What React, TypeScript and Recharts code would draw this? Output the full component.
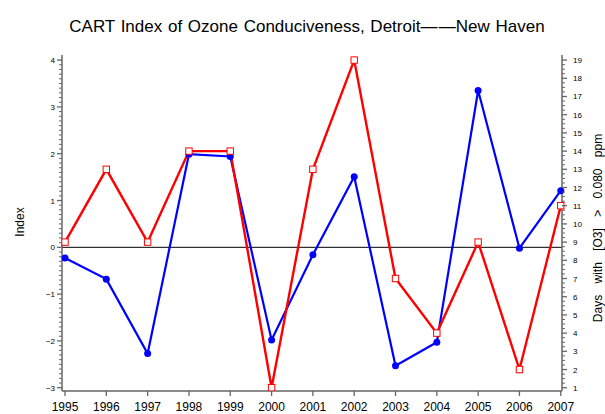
import { LineChart, Line, XAxis, YAxis, ReferenceLine } from 'recharts'

const years = [1995, 1996, 1997, 1998, 1999, 2000, 2001, 2002, 2003, 2004, 2005, 2006, 2007]
// CART index (left axis, blue)
const cartIndex = [-0.23, -0.68, -2.27, 1.99, 1.94, -1.98, -0.16, 1.51, -2.53, -2.03, 3.35, -0.02, 1.21]
// days with [O3] > 0.080 ppm (right axis, red)
const ozoneDays = [9, 13, 9, 14, 14, 1, 13, 19, 7, 4, 9, 2, 11]

const indexTicks = [-3, -2, -1, 0, 1, 2, 3, 4]
const dayTicks = [1, 2, 3, 4, 5, 6, 7, 8, 9, 10, 11, 12, 13, 14, 15, 16, 17, 18, 19]

const data = years.map((year, i) => ({ year, index: cartIndex[i], days: ozoneDays[i] }))

// minor ticks between the labelled ones
const withMinor = (major: number[], step: number) => {
  const out: number[] = []
  const lo = major[0]
  const hi = major[major.length - 1]
  for (let v = lo; v <= hi + 1e-9; v += step) out.push(Math.round(v * 100) / 100)
  return out
}
const indexAllTicks = withMinor(indexTicks, 0.1)
const dayAllTicks = withMinor(dayTicks, 0.25)

const axisColor = '#666'
const font = '"Liberation Sans", Arial, Helvetica, sans-serif'

const fmt = (v: number) => (v < 0 ? `\u2212${-v}` : `${v}`)

const LeftTick = ({ x, y, payload }: any) => {
  const v = payload.value
  const major = indexTicks.includes(v)
  return (
    <g>
      <line x1={x} x2={x - (major ? 5 : 3)} y1={y} y2={y} stroke={axisColor} strokeWidth={major ? 1.3 : 1} />
      {major && (
        <text x={x - 7} y={y} dy={3} textAnchor="end" fontSize={8} fontFamily={font} fill="#000">
          {fmt(v)}
        </text>
      )}
    </g>
  )
}

const RightTick = ({ x, y, payload }: any) => {
  const v = payload.value
  const major = dayTicks.includes(v)
  return (
    <g>
      <line x1={x} x2={x + (major ? 5 : 3)} y1={y} y2={y} stroke={axisColor} strokeWidth={major ? 1.3 : 1} />
      {major && (
        <text x={x + 11} y={y} dy={3} textAnchor="start" fontSize={8} fontFamily={font} fill="#000">
          {v}
        </text>
      )}
    </g>
  )
}

const YearTick = ({ x, y, payload }: any) => (
  <g>
    <line x1={x} x2={x} y1={y} y2={y + 5} stroke={axisColor} strokeWidth={1.3} />
    <text x={x} y={y + 20} textAnchor="middle" fontSize={12} fontFamily={font} fill="#000">
      {payload.value}
    </text>
  </g>
)

const SquareDot = ({ cx, cy, index }: any) => (
  <rect key={index} x={cx - 3.2} y={cy - 3.2} width={6.4} height={6.4} fill="#fff" stroke="#ff0000" strokeWidth={1} />
)

export default function App() {
  return (
    <div style={{ position: 'absolute', left: 0, top: 0, width: 605, height: 414, background: '#fff', fontFamily: font }}>
      <div style={{ position: 'absolute', left: 0, width: 614, top: 17, textAlign: 'center', fontSize: 17, wordSpacing: 1, whiteSpace: 'pre' }}>
        CART Index of Ozone Conduciveness, Detroit—&#8202;—New Haven
      </div>
      <div
        style={{
          position: 'absolute', left: 20, top: 222, fontSize: 12, whiteSpace: 'pre',
          transform: 'translate(-50%, -50%) rotate(-90deg)',
        }}
      >
        Index
      </div>
      <div
        style={{
          position: 'absolute', left: 598, top: 228, fontSize: 12, whiteSpace: 'pre', wordSpacing: 8,
          transform: 'translate(-50%, -50%) rotate(-90deg)',
        }}
      >
        Days with [O3] &gt; 0.080 ppm
      </div>
      <LineChart width={605} height={414} data={data} margin={{ top: 55, right: 0, bottom: 0, left: 0 }}>
        <XAxis
          dataKey="year"
          type="number"
          domain={[1994.927, 2007.03]}
          ticks={years}
          interval={0}
          height={23}
          tickSize={0}
          tickMargin={0}
          tick={<YearTick />}
          axisLine={{ stroke: axisColor, strokeWidth: 1.5 }}
        />
        <XAxis
          xAxisId="top"
          orientation="top"
          dataKey="year"
          type="number"
          domain={[1994.927, 2007.03]}
          height={0}
          tick={false}
          tickLine={false}
          axisLine={{ stroke: axisColor, strokeWidth: 1.5 }}
        />
        <YAxis
          yAxisId="left"
          domain={[-3.07, 4.109]}
          ticks={indexAllTicks}
          interval={0}
          width={62}
          tickSize={0}
          tickMargin={0}
          tick={<LeftTick />}
          axisLine={{ stroke: axisColor, strokeWidth: 1.5 }}
          allowDataOverflow
        />
        <YAxis
          yAxisId="right"
          orientation="right"
          domain={[0.82, 19.28]}
          ticks={dayAllTicks}
          interval={0}
          width={43}
          tickSize={0}
          tickMargin={0}
          tick={<RightTick />}
          axisLine={{ stroke: axisColor, strokeWidth: 1.5 }}
          allowDataOverflow
        />
        <ReferenceLine yAxisId="left" y={0} stroke="#000" strokeWidth={1} />
        <Line
          yAxisId="left"
          dataKey="index"
          type="linear"
          stroke="#0000ff"
          strokeWidth={2.2}
          dot={{ r: 3.5, fill: '#0000ff', stroke: '#0000ff', strokeWidth: 0 }}
          isAnimationActive={false}
        />
        <Line
          yAxisId="right"
          dataKey="days"
          type="linear"
          stroke="#ff0000"
          strokeWidth={2.4}
          dot={<SquareDot />}
          isAnimationActive={false}
        />
      </LineChart>
    </div>
  )
}
